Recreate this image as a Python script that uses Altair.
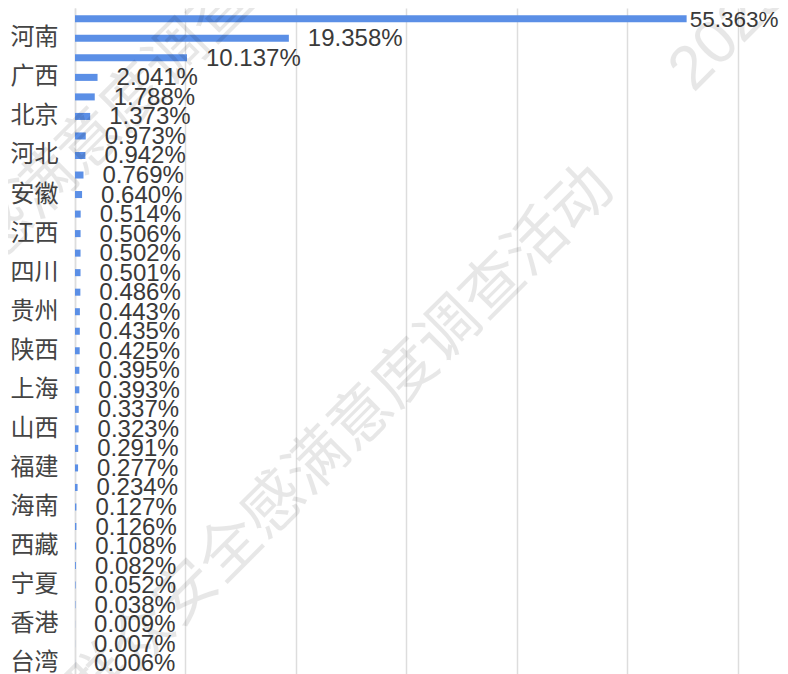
import json
import altair as alt
import pandas as pd

# ---- data (top to bottom) ----
provinces = ["湖北", "河南", "广东", "广西", "湖南", "北京", "江苏", "河北", "浙江", "安徽",
             "山东", "江西", "重庆", "四川", "天津", "贵州", "云南", "陕西", "辽宁", "上海",
             "吉林", "山西", "黑龙江", "福建", "内蒙古", "海南", "甘肃", "西藏", "新疆", "宁夏",
             "青海", "香港", "澳门", "台湾"]
values = [55.363, 19.358, 10.137, 2.041, 1.788, 1.373, 0.973, 0.942, 0.769, 0.640,
          0.514, 0.506, 0.502, 0.501, 0.486, 0.443, 0.435, 0.425, 0.395, 0.393,
          0.337, 0.323, 0.291, 0.277, 0.234, 0.127, 0.126, 0.108, 0.082, 0.052,
          0.038, 0.009, 0.007, 0.006]
x_ticks = [0, 10, 20, 30, 40, 50, 60]
watermark_text = "群众安全感满意度调查活动"
watermark_year = "2025"

df = pd.DataFrame({"province": provinces, "value": values})

FONT = "Liberation Sans, Noto Sans CJK SC, sans-serif"
CJK = "Noto Sans CJK SC, sans-serif"
label_expr = f"indexof({json.dumps(provinces, ensure_ascii=False)}, datum.value) % 2 == 1 ? datum.value : ''"

y_enc = alt.Y(
    "province:N",
    sort=provinces,
    scale=alt.Scale(paddingInner=0.64, paddingOuter=0.373),
    axis=alt.Axis(
        title=None, labelExpr=label_expr, labelFontSize=24, labelColor="#444444",
        labelFont=FONT, labelPadding=17, ticks=False, domain=True,
        domainColor="#dddddd", domainWidth=1.5, labelOverlap=False, labelBaseline="middle",
    ),
)
x_enc = alt.X(
    "value:Q",
    scale=alt.Scale(domain=[0, 63], nice=False, zero=True),
    axis=alt.Axis(
        title=None, values=x_ticks, labels=False, ticks=False, domain=False,
        grid=True, gridColor="#dddddd", gridWidth=1.5,
    ),
)

base = alt.Chart(df).transform_calculate(
    label="format(datum.value, '.3f') + '%'"
).encode(y=y_enc)

bars = base.mark_bar(color="#5b8fe6").encode(x=x_enc)

labels_small = base.transform_filter("datum.value < 50").mark_text(
    align="left", baseline="middle", dx=19, dy=1, fontSize=24, font=FONT, color="#3a3a3a"
).encode(x=alt.X("value:Q"), text="label:N")

labels_big = base.transform_filter("datum.value >= 50").mark_text(
    align="left", baseline="middle", dx=3, dy=1, fontSize=22.5, font=FONT, color="#3a3a3a"
).encode(x=alt.X("value:Q"), text="label:N")

wm_df = pd.DataFrame({"t": [watermark_text]})
wm_main = alt.Chart(wm_df).mark_text(
    align="center", baseline="middle", angle=315, fontSize=62, font=CJK,
    color="#000000", opacity=0.09,
).encode(x=alt.value(265), y=alt.value(432), text="t:N")
wm_top = alt.Chart(wm_df).mark_text(
    align="center", baseline="middle", angle=315, fontSize=62, font=CJK,
    color="#000000", opacity=0.09,
).encode(x=alt.value(-7), y=alt.value(156), text="t:N")
wm_year = alt.Chart(pd.DataFrame({"t": [watermark_year]})).mark_text(
    align="left", baseline="middle", angle=315, fontSize=62, font=FONT,
    color="#000000", opacity=0.09,
).encode(x=alt.value(605), y=alt.value(72), text="t:N")

chart = alt.layer(bars, labels_small, labels_big, wm_main, wm_top, wm_year).properties(
    width=696,
    height=666,
    autosize=alt.AutoSizeParams(type="none"),
    padding={"left": 67, "top": 0, "right": 9, "bottom": 0},
).configure_view(stroke=None)

chart.save("out.html", embed_options={"renderer": "svg", "actions": False})
